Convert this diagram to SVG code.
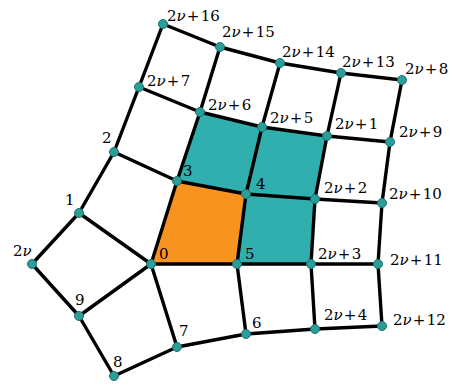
<svg xmlns="http://www.w3.org/2000/svg" width="458" height="385" viewBox="0 0 458 385">
<style>
.e{fill:none;stroke:#000;stroke-width:3.4;stroke-linejoin:round;stroke-linecap:round}
.n{fill:#2a9e9b;stroke:#1d706d;stroke-width:1}
text{font-family:'DejaVu Serif',serif;font-size:15px;fill:#000}
.v{font-style:italic}
</style>
<rect width="458" height="385" fill="#fff"/>
<g id="faces">
<polygon points="151,264 177,181 246,194 237,264" fill="#f7931e"/>
<polygon points="177,181 200,112 262,127 246,194" fill="#31afaf"/>
<polygon points="246,194 262,127 327,136 315,199" fill="#31afaf"/>
<polygon points="237,264 246,194 315,199 311,264" fill="#31afaf"/>
</g>
<g id="connectors">
<polyline class="e" points="163,24 220,47 280,63 341,73 402,80"/>
<polyline class="e" points="139,87 200,112 262,127 327,136 390,142"/>
<polyline class="e" points="114,152 177,181 246,194 315,199 382,203"/>
<polyline class="e" points="151,264 237,264 311,264 378,264"/>
<polyline class="e" points="114,376 177,347 246,334 315,329 382,326"/>
<polyline class="e" points="79,213 114,152 139,87 163,24"/>
<polyline class="e" points="151,264 177,181 200,112 220,47"/>
<polyline class="e" points="246,334 237,264 246,194 262,127 280,63"/>
<polyline class="e" points="315,329 311,264 315,199 327,136 341,73"/>
<polyline class="e" points="382,326 378,264 382,203 390,142 402,80"/>
<polyline class="e" points="79,213 32,264 79,316 114,376"/>
<polyline class="e" points="79,213 151,264 79,316"/>
<polyline class="e" points="151,264 177,347"/>
</g>
<g id="n0"><circle class="n" cx="151" cy="264" r="4.5"/><text x="159" y="259">0</text></g>
<g id="n1"><circle class="n" cx="79" cy="213" r="4.5"/><text x="65" y="205">1</text></g>
<g id="n2"><circle class="n" cx="114" cy="152" r="4.5"/><text x="102" y="143">2</text></g>
<g id="n3"><circle class="n" cx="177" cy="181" r="4.5"/><text x="183" y="176">3</text></g>
<g id="n4"><circle class="n" cx="246" cy="194" r="4.5"/><text x="256" y="189">4</text></g>
<g id="n5"><circle class="n" cx="237" cy="264" r="4.5"/><text x="245" y="259">5</text></g>
<g id="n6"><circle class="n" cx="246" cy="334" r="4.5"/><text x="252" y="328">6</text></g>
<g id="n7"><circle class="n" cx="177" cy="347" r="4.5"/><text x="179" y="336">7</text></g>
<g id="n8"><circle class="n" cx="114" cy="376" r="4.5"/><text x="113" y="367">8</text></g>
<g id="n9"><circle class="n" cx="79" cy="316" r="4.5"/><text x="75" y="305">9</text></g>
<g id="n2v"><circle class="n" cx="32" cy="264" r="4.5"/><text x="13" y="256">2<tspan class="v">ν</tspan></text></g>
<g id="n2v1"><circle class="n" cx="327" cy="136" r="4.5"/><text x="335" y="129">2<tspan class="v">ν</tspan><tspan dx="1.2">+</tspan><tspan dx="1.2">1</tspan></text></g>
<g id="n2v2"><circle class="n" cx="315" cy="199" r="4.5"/><text x="324" y="193">2<tspan class="v">ν</tspan><tspan dx="1.2">+</tspan><tspan dx="1.2">2</tspan></text></g>
<g id="n2v3"><circle class="n" cx="311" cy="264" r="4.5"/><text x="318" y="259">2<tspan class="v">ν</tspan><tspan dx="1.2">+</tspan><tspan dx="1.2">3</tspan></text></g>
<g id="n2v4"><circle class="n" cx="315" cy="329" r="4.5"/><text x="324" y="320">2<tspan class="v">ν</tspan><tspan dx="1.2">+</tspan><tspan dx="1.2">4</tspan></text></g>
<g id="n2v5"><circle class="n" cx="262" cy="127" r="4.5"/><text x="270" y="123">2<tspan class="v">ν</tspan><tspan dx="1.2">+</tspan><tspan dx="1.2">5</tspan></text></g>
<g id="n2v6"><circle class="n" cx="200" cy="112" r="4.5"/><text x="208" y="110">2<tspan class="v">ν</tspan><tspan dx="1.2">+</tspan><tspan dx="1.2">6</tspan></text></g>
<g id="n2v7"><circle class="n" cx="139" cy="87" r="4.5"/><text x="147" y="86">2<tspan class="v">ν</tspan><tspan dx="1.2">+</tspan><tspan dx="1.2">7</tspan></text></g>
<g id="n2v8"><circle class="n" cx="402" cy="80" r="4.5"/><text x="405" y="74">2<tspan class="v">ν</tspan><tspan dx="1.2">+</tspan><tspan dx="1.2">8</tspan></text></g>
<g id="n2v9"><circle class="n" cx="390" cy="142" r="4.5"/><text x="399" y="137">2<tspan class="v">ν</tspan><tspan dx="1.2">+</tspan><tspan dx="1.2">9</tspan></text></g>
<g id="n2v10"><circle class="n" cx="382" cy="203" r="4.5"/><text x="389" y="199">2<tspan class="v">ν</tspan><tspan dx="1.2">+</tspan><tspan dx="1.2">10</tspan></text></g>
<g id="n2v11"><circle class="n" cx="378" cy="264" r="4.5"/><text x="390" y="265">2<tspan class="v">ν</tspan><tspan dx="1.2">+</tspan><tspan dx="1.2">11</tspan></text></g>
<g id="n2v12"><circle class="n" cx="382" cy="326" r="4.5"/><text x="393" y="325">2<tspan class="v">ν</tspan><tspan dx="1.2">+</tspan><tspan dx="1.2">12</tspan></text></g>
<g id="n2v13"><circle class="n" cx="341" cy="73" r="4.5"/><text x="342" y="67">2<tspan class="v">ν</tspan><tspan dx="1.2">+</tspan><tspan dx="1.2">13</tspan></text></g>
<g id="n2v14"><circle class="n" cx="280" cy="63" r="4.5"/><text x="282" y="57">2<tspan class="v">ν</tspan><tspan dx="1.2">+</tspan><tspan dx="1.2">14</tspan></text></g>
<g id="n2v15"><circle class="n" cx="220" cy="47" r="4.5"/><text x="222" y="37">2<tspan class="v">ν</tspan><tspan dx="1.2">+</tspan><tspan dx="1.2">15</tspan></text></g>
<g id="n2v16"><circle class="n" cx="163" cy="24" r="4.5"/><text x="167" y="21">2<tspan class="v">ν</tspan><tspan dx="1.2">+</tspan><tspan dx="1.2">16</tspan></text></g>
</svg>
